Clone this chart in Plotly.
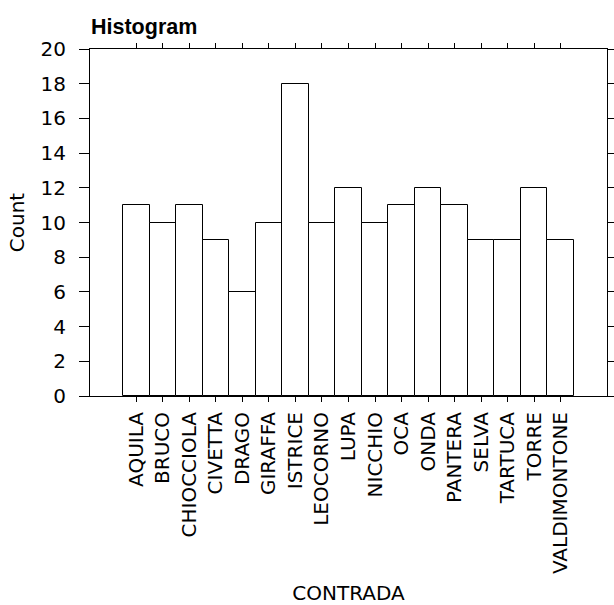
import plotly.graph_objects as go

# Count of records per contrada
contrade = ["AQUILA", "BRUCO", "CHIOCCIOLA", "CIVETTA", "DRAGO", "GIRAFFA",
            "ISTRICE", "LEOCORNO", "LUPA", "NICCHIO", "OCA", "ONDA",
            "PANTERA", "SELVA", "TARTUCA", "TORRE", "VALDIMONTONE"]
counts = [11, 10, 11, 9, 6, 10, 18, 10, 12, 10, 11, 12, 11, 9, 9, 12, 9]
y_ticks = [0, 2, 4, 6, 8, 10, 12, 14, 16, 18, 20]

FONT = "DejaVu Sans"
SIZE = 20

fig = go.Figure(
    go.Bar(
        x=contrade,
        y=counts,
        marker=dict(color="white", line=dict(color="black", width=1)),
        width=1.0,
    )
)

fig.update_layout(
    width=614,
    height=605,
    margin=dict(l=90, r=7, t=49, b=209),
    paper_bgcolor="white",
    plot_bgcolor="white",
    showlegend=False,
    bargap=0,
    font=dict(family=FONT, size=SIZE, color="black"),
    title=dict(
        text="<b>Histogram</b>",
        font=dict(family="Liberation Sans", size=21.5, color="black"),
        x=91 / 614,
        xanchor="left",
        y=1 - 26 / 605,
        yanchor="middle",
    ),
)

fig.update_xaxes(
    type="category",
    categoryorder="array",
    categoryarray=contrade,
    range=[-1.75, 17.75],
    automargin=False,
    showline=True,
    linecolor="black",
    linewidth=1,
    mirror="ticks",
    ticks="outside",
    ticklen=5,
    tickcolor="black",
    tickangle=-90,
    tickfont=dict(family=FONT, size=SIZE),
    ticklabelstandoff=2,
    showgrid=False,
    zeroline=False,
    title=dict(text="CONTRADA", font=dict(family=FONT, size=SIZE), standoff=12),
)

fig.update_yaxes(
    range=[0, 20],
    tickvals=y_ticks,
    automargin=False,
    showline=True,
    linecolor="black",
    linewidth=1,
    mirror="ticks",
    ticks="outside",
    ticklen=10,
    tickcolor="black",
    tickfont=dict(family=FONT, size=SIZE),
    ticklabelstandoff=9,
    showgrid=False,
    zeroline=False,
    title=dict(text="Count", font=dict(family=FONT, size=SIZE), standoff=10),
)

fig.write_html("out.html")
